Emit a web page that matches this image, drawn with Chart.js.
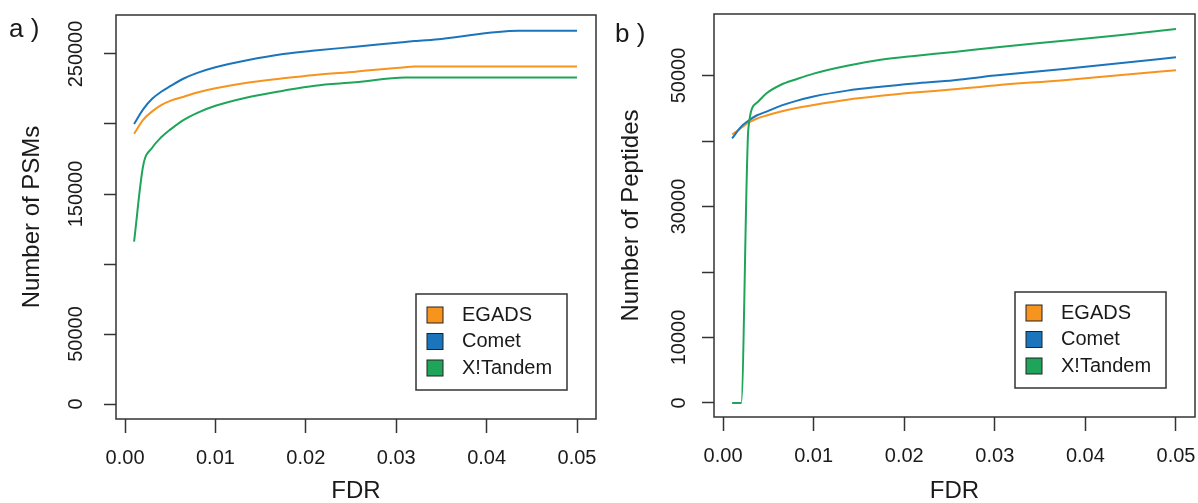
<!DOCTYPE html>
<html>
<head>
<meta charset="utf-8">
<script src="https://cdn.jsdelivr.net/npm/chart.js@4.4.1/dist/chart.umd.min.js"></script>
<style>
  html, body { margin: 0; padding: 0; background: #fff; }
  #wrap { position: relative; width: 1198px; height: 503px; }
  #wrap canvas { position: absolute; top: 0; }
</style>
</head>
<body>
<div id="wrap">
  <canvas id="panelA" width="599" height="503" style="left:0"></canvas>
  <canvas id="panelB" width="599" height="503" style="left:599px"></canvas>
</div>
<script>
const SERIES = ['EGADS', 'Comet', 'X!Tandem']
const COLORS = ['#F7941E', '#1B75BC', '#1FA55A']
const X_TICKS = [0, 0.01, 0.02, 0.03, 0.04, 0.05]

// a) number of PSMs
const FDR_A = [0.001, 0.002, 0.003, 0.004, 0.005, 0.0065, 0.008, 0.010, 0.0135, 0.0175, 0.021, 0.0255, 0.031, 0.032, 0.035, 0.0435, 0.05]
const EGADS_A = [193000, 203000, 209000, 213500, 216500, 219500, 222500, 225500, 229500, 232600, 235000, 237400, 240600, 241000, 241000, 241000, 241000]
const COMET_A = [200000, 210500, 218000, 223000, 227000, 232500, 236500, 240500, 245500, 250000, 252500, 255200, 258600, 259200, 260800, 266600, 266600]
const XTANDEM_A = [116000, 170000, 183000, 190500, 196000, 203000, 208000, 213000, 219000, 223800, 227400, 229800, 233300, 233300, 233300, 233300, 233300]
const Y_TICKS_A = [0, 50000, 100000, 150000, 200000, 250000]
const Y_LABELS_A = [0, 50000, 150000, 250000]

// b) number of peptides
const FDR_B = [0.001, 0.002, 0.0028, 0.0037, 0.0048, 0.0064, 0.008, 0.010, 0.0137, 0.0174, 0.0211, 0.0255, 0.030, 0.0376, 0.044, 0.05]
const EGADS_B = [41000, 42000, 42800, 43400, 43900, 44500, 45000, 45500, 46300, 46900, 47400, 47900, 48500, 49300, 50100, 50800]
const COMET_B = [40400, 42200, 43100, 43900, 44500, 45400, 46100, 46800, 47700, 48300, 48800, 49300, 50000, 51000, 51900, 52800]
const XTANDEM_B = [0, 0, 42000, 45800, 47300, 48600, 49400, 50300, 51500, 52400, 53000, 53600, 54300, 55300, 56200, 57100]
const Y_TICKS_B = [0, 10000, 20000, 30000, 40000, 50000]
const Y_LABELS_B = [0, 10000, 30000, 50000]

Chart.defaults.font.family = '"Liberation Sans", Arial, sans-serif'
Chart.defaults.color = '#1a1a1a'

// R-style frame, inset legend and panel tag
const rFrame = {
    id: 'rFrame',
    afterDraw(chart, args, opts) {
        const { ctx, chartArea: a } = chart
        ctx.save()
        ctx.strokeStyle = '#333'
        ctx.lineWidth = 1.5
        ctx.strokeRect(a.left, a.top, a.right - a.left, a.bottom - a.top)

        const w = 151, h = 96
        const lx = a.right - 29 - w, ly = a.bottom - 29 - h
        ctx.fillStyle = '#fff'
        ctx.fillRect(lx, ly, w, h)
        ctx.strokeRect(lx, ly, w, h)
        ctx.font = '20px "Liberation Sans", Arial, sans-serif'
        ctx.textBaseline = 'middle'
        chart.data.datasets.forEach((ds, i) => {
            const cy = ly + 21 + i * 26.5
            ctx.fillStyle = ds.borderColor
            ctx.fillRect(lx + 11, cy - 8, 16, 16)
            ctx.lineWidth = 1
            ctx.strokeStyle = '#222'
            ctx.strokeRect(lx + 11, cy - 8, 16, 16)
            ctx.fillStyle = '#1a1a1a'
            ctx.fillText(ds.label, lx + 46, cy)
        })

        ctx.font = '26px "Liberation Sans", Arial, sans-serif'
        ctx.textBaseline = 'alphabetic'
        ctx.fillText(opts.tag, opts.tagX, opts.tagY)
        ctx.restore()
    }
}

function makePanel(id, p) {
    const series = [p.egads, p.comet, p.xtandem]
    new Chart(document.getElementById(id), {
        type: 'line',
        data: {
            datasets: SERIES.map((name, i) => ({
                label: name,
                data: p.fdr.map((f, j) => ({ x: f, y: series[i][j] })),
                borderColor: COLORS[i],
                borderWidth: 2,
                pointRadius: 0,
                cubicInterpolationMode: 'monotone',
                order: 3 - i
            }))
        },
        options: {
            responsive: false,
            animation: false,
            devicePixelRatio: 1,
            layout: { padding: { top: p.top, right: 599 - p.right, left: 0, bottom: 0 } },
            plugins: {
                legend: { display: false },
                tooltip: { enabled: false },
                rFrame: { tag: p.tag, tagX: p.tagX, tagY: p.tagY }
            },
            scales: {
                x: {
                    type: 'linear',
                    min: -0.001,
                    max: 0.0521,
                    afterBuildTicks: s => { s.ticks = X_TICKS.map(v => ({ value: v })) },
                    afterFit: s => {
                        s.height = 503 - p.bottom
                        s.paddingLeft = 0
                        s.paddingRight = 0
                    },
                    ticks: {
                        callback: v => v.toFixed(2),
                        font: { size: 20 },
                        padding: 13,
                        maxRotation: 0,
                        autoSkip: false
                    },
                    grid: { drawOnChartArea: false, tickLength: 14, tickColor: '#333', tickWidth: 1.5 },
                    border: { display: false },
                    title: { display: true, text: 'FDR', font: { size: 24, lineHeight: 1 }, padding: { top: 0, bottom: 0 } }
                },
                y: {
                    min: p.ymin,
                    max: p.ymax,
                    afterBuildTicks: s => { s.ticks = p.yticks.map(v => ({ value: v })) },
                    afterFit: s => {
                        s.width = p.left
                        s.paddingTop = 0
                        s.paddingBottom = 0
                    },
                    ticks: {
                        callback: v => p.ylabels.includes(v) ? String(v) : '',
                        minRotation: 90,
                        maxRotation: 90,
                        crossAlign: 'center',
                        padding: p.ypad,
                        font: { size: 20 },
                        autoSkip: false
                    },
                    grid: { drawOnChartArea: false, tickLength: 12, tickColor: '#333', tickWidth: 1.5 },
                    border: { display: false },
                    title: { display: true, text: p.ytitle, font: { size: 24, lineHeight: 1 }, padding: { top: 20, bottom: 0 } }
                }
            }
        },
        plugins: [rFrame]
    })
}

makePanel('panelA', {
    fdr: FDR_A, egads: EGADS_A, comet: COMET_A, xtandem: XTANDEM_A,
    yticks: Y_TICKS_A, ylabels: Y_LABELS_A, ymin: -10714, ymax: 277857,
    ytitle: 'Number of PSMs', left: 116, right: 596, top: 15, bottom: 419, ypad: -6,
    tag: 'a )', tagX: 9, tagY: 37
})

makePanel('panelB', {
    fdr: FDR_B, egads: EGADS_B, comet: COMET_B, xtandem: XTANDEM_B,
    yticks: Y_TICKS_B, ylabels: Y_LABELS_B, ymin: -2138, ymax: 59400,
    ytitle: 'Number of Peptides', left: 115, right: 596, top: 14, bottom: 417, ypad: -5,
    tag: 'b )', tagX: 16, tagY: 42
})
</script>
</body>
</html>
